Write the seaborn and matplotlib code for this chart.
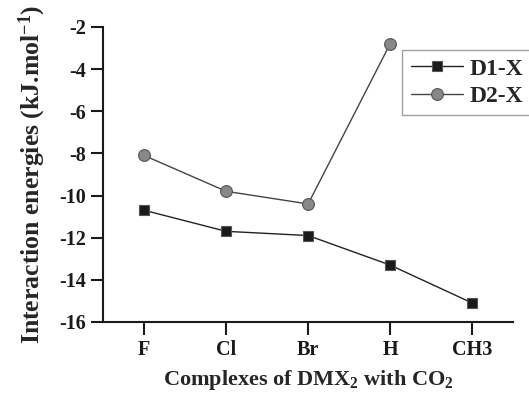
import numpy as np
import pandas as pd
import matplotlib
matplotlib.use("Agg")
import matplotlib.pyplot as plt
import seaborn as sns

complexes = ["F", "Cl", "Br", "H", "CH3"]
d1_x = [-10.7, -11.7, -11.9, -13.3, -15.1]
d2_x = [-8.1, -9.8, -10.4, -2.8, np.nan]

sns.set_theme(style="ticks")
plt.rcParams['font.family'] = ['Liberation Serif', 'DejaVu Serif']
plt.rcParams['font.weight'] = 'bold'
plt.rcParams['mathtext.fontset'] = 'custom'
plt.rcParams['mathtext.rm'] = 'Liberation Serif:bold'
plt.rcParams['mathtext.bf'] = 'Liberation Serif:bold'
plt.rcParams['mathtext.it'] = 'Liberation Serif:bold'

df = pd.DataFrame({"Complex": complexes, "D1-X": d1_x, "D2-X": d2_x})

fig = plt.figure(figsize=(5.29, 3.96), dpi=100)
ax = fig.add_axes([0.195, 0.187, 0.775, 0.745])

sns.lineplot(data=df, x="Complex", y="D1-X", ax=ax, color="#222222", lw=1,
             marker="s", markersize=7.5, markerfacecolor="#1a1a1a",
             markeredgecolor="#555555", markeredgewidth=0.8, label="D1-X", sort=False)
sns.lineplot(data=df.dropna(), x="Complex", y="D2-X", ax=ax, color="#444444", lw=1,
             marker="o", markersize=8.5, markerfacecolor="#888888",
             markeredgecolor="#555555", markeredgewidth=0.8, label="D2-X", sort=False)

ax.set_xlim(-0.5, 4.5)
ax.set_ylim(-16, -2)
ax.set_yticks(range(-16, -1, 2))
ax.set_yticklabels([str(v) for v in range(-16, -1, 2)])
ax.tick_params(axis="both", direction="out", length=9, width=1.5, labelsize=14.5, colors="#1a1a1a")
ax.tick_params(axis="x", pad=4)
for lab in ax.get_xticklabels() + ax.get_yticklabels():
    lab.set_fontweight("bold")

sns.despine(ax=ax)
for s in ["left", "bottom"]:
    ax.spines[s].set_linewidth(1.5)
    ax.spines[s].set_color("#1a1a1a")

ax.set_xlabel(r"Complexes of DMX$_{2}$ with CO$_{2}$", fontsize=16, fontweight="bold", labelpad=6)
ax.set_ylabel(r"Interaction energies (kJ.mol$^{-1}$)", fontsize=18.5, fontweight="bold", labelpad=8)

leg = ax.legend(loc="upper left", bbox_to_anchor=(0.73, 0.922), borderaxespad=0, frameon=True,
                fancybox=False, fontsize=17, handlelength=2.2, borderpad=0.35,
                labelspacing=0.25, handletextpad=0.3)
leg.get_frame().set_edgecolor("#888888")
leg.get_frame().set_linewidth(1)
for t in leg.get_texts():
    t.set_fontweight("bold")

fig.savefig("out.png", dpi=100)
